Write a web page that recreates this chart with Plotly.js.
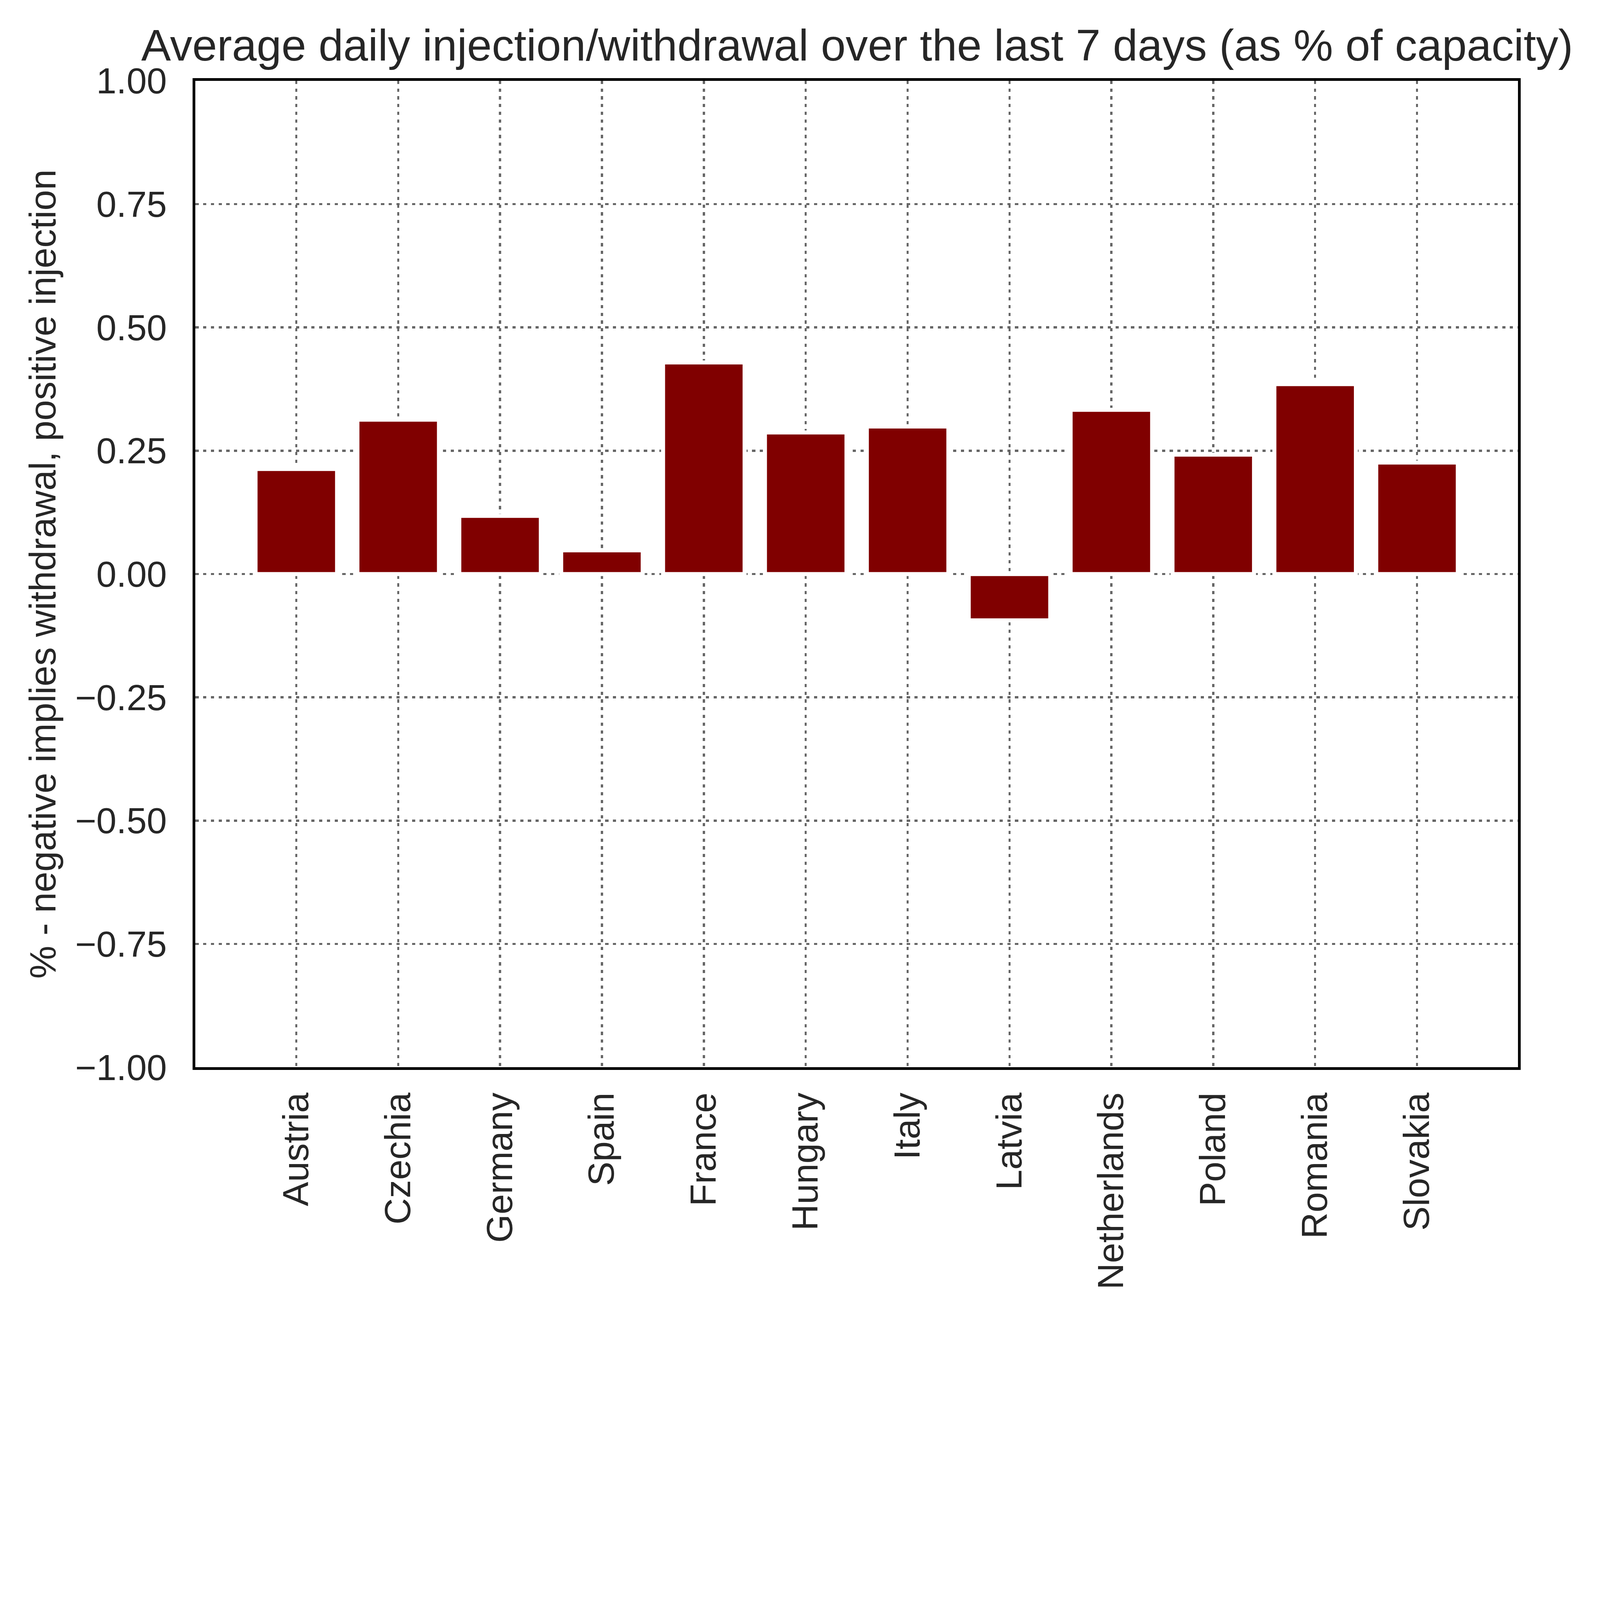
<!DOCTYPE html>
<html>
<head>
<meta charset="utf-8">
<script src="https://cdn.plot.ly/plotly-3.0.1.min.js"></script>
<style>
  html, body { margin: 0; padding: 0; background: #ffffff; overflow: hidden; }
  #chart { width: 6001px; height: 4946px; transform-origin: 0 0; }
</style>
</head>
<body>
<div id="chart"></div>
<script>
// countries on the x axis
var countries = ['Austria', 'Czechia', 'Germany', 'Spain', 'France', 'Hungary',
                 'Italy', 'Latvia', 'Netherlands', 'Poland', 'Romania', 'Slovakia'];

// average daily injection (+) / withdrawal (-), % of capacity
var avgChange = [0.213, 0.313, 0.118, 0.048, 0.429, 0.287,
                 0.299, -0.094, 0.333, 0.242, 0.385, 0.226];

var yTicks = [-1, -0.75, -0.5, -0.25, 0, 0.25, 0.5, 0.75, 1];

var textColor = '#262626';
var fontFam = '"Liberation Sans", Arial, sans-serif';

// the chart is laid out at 6001x4946 and shrunk to fit the window if needed
var W = 6001, H = 4946;
var fit = Math.min(1, window.innerWidth / W, window.innerHeight / H);
document.getElementById('chart').style.transform = 'scale(' + fit + ')';

var trace = {
	x: countries,
	y: avgChange,
	type: 'bar',
	width: 0.8,
	marker: {
		color: '#800000',
		line: { color: '#ffffff', width: 15 }
	}
};

var layout = {
	width: W,
	height: H,
	paper_bgcolor: '#ffffff',
	plot_bgcolor: '#ffffff',
	margin: { l: 733, r: 308, t: 303, b: 943, pad: 0 },
	showlegend: false,
	title: {
		text: 'Average daily injection/withdrawal over the last 7 days (as % of capacity)',
		font: { family: fontFam, size: 167, color: textColor },
		x: 0.5357,
		xref: 'container',
		xanchor: 'center',
		y: 0.966,
		yref: 'container',
		yanchor: 'middle'
	},
	xaxis: {
		type: 'category',
		range: [-0.99, 11.99],
		tickangle: -90,
		tickfont: { family: fontFam, size: 137, color: textColor },
		ticks: '',
		ticklabelstandoff: 30,
		showgrid: true,
		gridcolor: '#666666',
		gridwidth: 8,
		griddash: '12px,17px',
		showline: true,
		linecolor: '#000000',
		linewidth: 10,
		mirror: true,
		zeroline: false,
		automargin: false
	},
	yaxis: {
		range: [-1, 1],
		tickvals: yTicks,
		tickformat: '.2f',
		tickfont: { family: fontFam, size: 136, color: textColor },
		ticks: '',
		ticklabelstandoff: 70,
		showgrid: true,
		gridcolor: '#666666',
		gridwidth: 8,
		griddash: '12px,17px',
		showline: true,
		linecolor: '#000000',
		linewidth: 10,
		mirror: true,
		zeroline: false,
		automargin: false,
		title: {
			text: '% - negative implies withdrawal, positive injection',
			font: { family: fontFam, size: 139, color: textColor },
			standoff: 30
		}
	}
};

Plotly.newPlot('chart', [trace], layout, { staticPlot: true, displayModeBar: false });
</script>
</body>
</html>
